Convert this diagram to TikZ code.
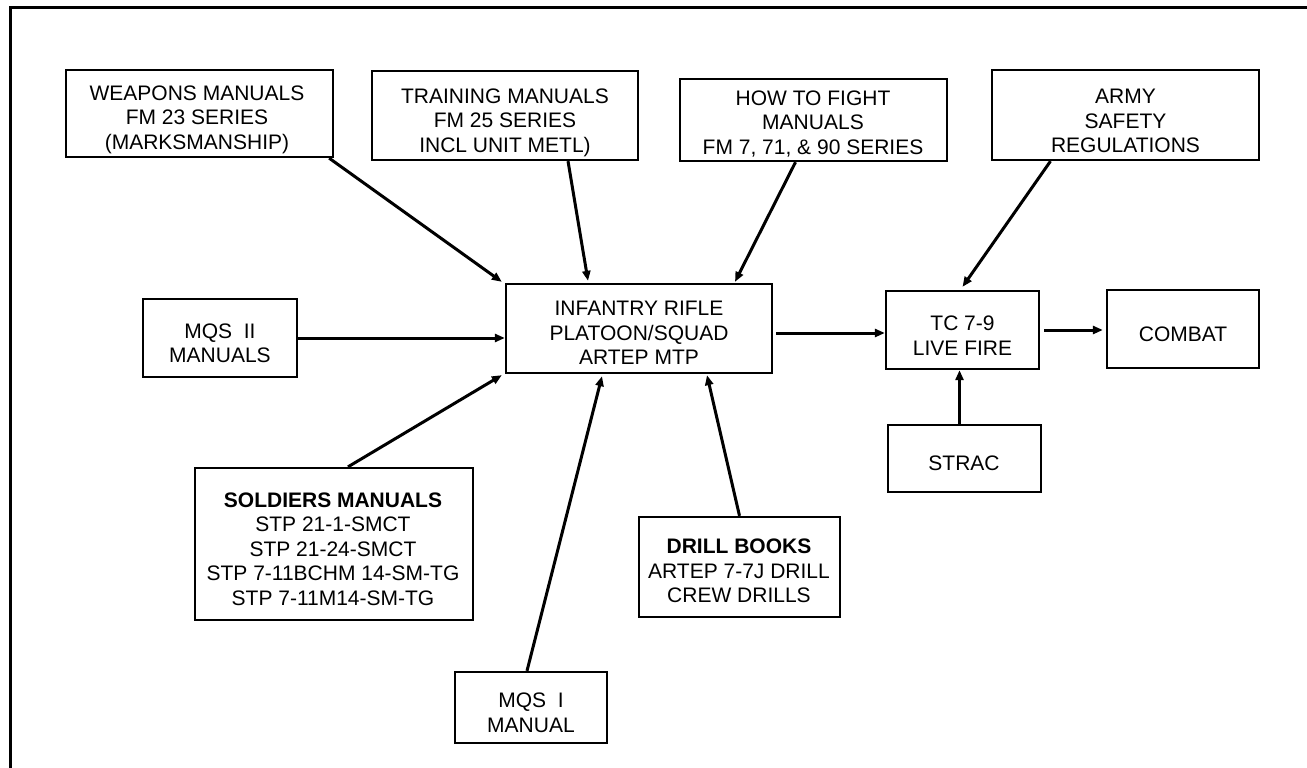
\documentclass[tikz,border=0pt]{standalone}
\usepackage{fontspec}
\setmainfont{Liberation Sans}
\usetikzlibrary{arrows.meta,calc}
\begin{document}
\begin{tikzpicture}[x=1pt,y=-1pt,
  box/.style={draw,line width=2.3pt,inner sep=0pt},
  txt/.style={align=center,inner sep=0pt,font=\fontsize{21}{24.5}\selectfont},
  arr/.style={line width=3pt,-{Triangle[length=10pt,width=8pt]}}]
\useasboundingbox (0,0) rectangle (1307,768);
% frame
\coordinate (fa) at (10,768);
\coordinate (fb) at (10,8);
\coordinate (fc) at (1307,8);
\draw[line width=3pt] (fa) -- (fb) -- (fc);
% boxes
\node[box,minimum width=267pt,minimum height=87pt] (w) at (199.5,113.5) {};
\node[txt] (wT) at (197,119.5) {WEAPONS MANUALS\\FM 23 SERIES\\(MARKSMANSHIP)};
\node[box,minimum width=266pt,minimum height=89pt] (t) at (505,115.5) {};
\node[txt] (tT) at (505,122.5) {TRAINING MANUALS\\FM 25 SERIES\\INCL UNIT METL)};
\node[box,minimum width=267pt,minimum height=82pt] (h) at (813.5,120) {};
\node[txt] (hT) at (813,124) {HOW TO FIGHT\\MANUALS\\FM 7, 71, \& 90 SERIES};
\node[box,minimum width=267pt,minimum height=90pt] (a) at (1125.5,115) {};
\node[txt] (aT) at (1125.5,121) {ARMY\\SAFETY\\REGULATIONS};
\node[box,minimum width=154pt,minimum height=78pt] (m2) at (220,338) {};
\node[txt] (m2T) at (220,343.5) {MQS~~II\\MANUALS};
\node[box,minimum width=278pt,minimum height=152pt] (s) at (334,544) {};
\node[txt] (sT) at (333,549) {\textbf{SOLDIERS MANUALS}\\STP 21-1-SMCT\\STP 21-24-SMCT\\STP 7-11BCHM 14-SM-TG\\STP 7-11M14-SM-TG};
\node[box,minimum width=266pt,minimum height=89pt] (i) at (639,328.5) {};
\node[txt] (iT) at (639,333) {INFANTRY RIFLE\\PLATOON/SQUAD\\ARTEP MTP};
\node[box,minimum width=201pt,minimum height=100pt] (d) at (739.5,567) {};
\node[txt] (dT) at (739,571) {\textbf{DRILL BOOKS}\\ARTEP 7-7J DRILL\\CREW DRILLS};
\node[box,minimum width=152pt,minimum height=71pt] (m1) at (531,707.5) {};
\node[txt] (m1T) at (531,713) {MQS~~I\\MANUAL};
\node[box,minimum width=153pt,minimum height=78pt] (tc) at (962.5,330) {};
\node[txt] (tcT) at (962.5,335.5) {TC 7-9\\LIVE FIRE};
\node[box,minimum width=152pt,minimum height=78pt] (c) at (1183,329) {};
\node[txt] (cT) at (1183,334.5) {COMBAT};
\node[box,minimum width=153pt,minimum height=67pt] (st) at (964.5,458.5) {};
\node[txt] (stT) at (964,463) {STRAC};
% connectors
\draw[arr] ([xshift=-5pt]w.south east) -- ([shift={(-3pt,1pt)}]i.north west);
\draw[arr] ([xshift=63pt]t.south) -- ([xshift=-51pt,yshift=2pt]i.north);
\draw[arr] ([xshift=-18pt]h.south) -- ([xshift=96pt,yshift=1pt]i.north);
\draw[arr] ([xshift=-75pt]a.south) -- ([yshift=3pt]tc.north);
\draw[arr] (m2.east) -- (m2.east -| i.west);
\draw[arr] ([xshift=14pt]s.north) -- ([shift={(-3pt,-1pt)}]i.south west);
\draw[arr] ([xshift=-4pt]m1.north) -- ([xshift=-37pt,yshift=-2pt]i.south);
\draw[arr] (d.north) -- ([xshift=68pt,yshift=-1pt]i.south);
\coordinate (ie) at ([xshift=3pt,yshift=-4.5pt]i.east);
\draw[arr] (ie) -- (ie -| tc.west);
\coordinate (te) at ([xshift=4pt]tc.east);
\draw[arr,shorten >=3pt] (te) -- (te -| c.west);
\coordinate (sa) at ([xshift=-5pt]st.north);
\draw[arr] (sa) -- (sa |- tc.south);
\end{tikzpicture}
\end{document}
